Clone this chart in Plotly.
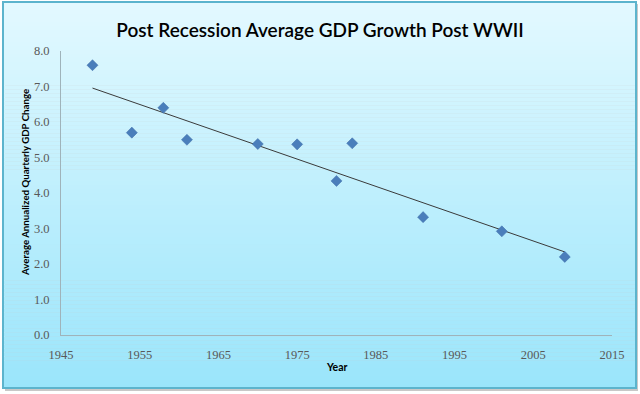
import plotly.graph_objects as go
import numpy as np

# Data
years = [1949, 1954, 1958, 1961, 1970, 1975, 1980, 1982, 1991, 2001, 2009]
gdp_growth = [7.6, 5.7, 6.4, 5.5, 5.38, 5.37, 4.34, 5.4, 3.32, 2.92, 2.2]
x_ticks = [1945, 1955, 1965, 1975, 1985, 1995, 2005, 2015]
y_ticks = [0, 1, 2, 3, 4, 5, 6, 7, 8]

W, H = 640, 394
L, R, T, B = 61, 28, 51, 59
PW, PH = W - L - R, H - T - B

def px(x):
    return (x - L) / PW

def py(y):
    return (H - B - y) / PH

# linear trendline (least squares)
slope, intercept = np.polyfit(years, gdp_growth, 1)
trend_x = [min(years), max(years)]
trend_y = [slope * v + intercept for v in trend_x]

fig = go.Figure()
fig.add_trace(go.Scatter(
    x=trend_x, y=trend_y, mode="lines",
    line=dict(color="#3a3a3a", width=1), hoverinfo="skip", showlegend=False))
fig.add_trace(go.Scatter(
    x=years, y=gdp_growth, mode="markers",
    marker=dict(symbol="diamond", size=8.5, color="#4a7ebb",
                line=dict(color="#3f6fa8", width=0.5)),
    showlegend=False))

shapes = []
# shadow
shapes.append(dict(type="rect", xref="paper", yref="paper", layer="below",
                   x0=px(5), x1=px(638), y0=py(4), y1=py(391),
                   fillcolor="#c8c8c8", line=dict(width=0)))
# gradient background via stripes
x0b, x1b, y0b, y1b = 3, 636, 2, 388
n = 97
top = np.array([0xE3, 0xF9, 0xFF])
bot = np.array([0x9A, 0xE5, 0xFB])
for i in range(n):
    ya = y0b + (y1b - y0b) * i / n
    yb = y0b + (y1b - y0b) * (i + 1) / n
    t = (i + 0.5) / n
    c = (top * (1 - t) + bot * t).round().astype(int)
    shapes.append(dict(type="rect", xref="paper", yref="paper", layer="below",
                       x0=px(x0b), x1=px(x1b), y0=py(yb + 0.3), y1=py(ya),
                       fillcolor="rgb(%d,%d,%d)" % tuple(c), line=dict(width=0)))
# border
shapes.append(dict(type="rect", xref="paper", yref="paper", layer="below",
                   x0=px(x0b), x1=px(x1b), y0=py(y1b), y1=py(y0b),
                   fillcolor="rgba(0,0,0,0)", line=dict(color="#5cb4cd", width=2)))
fig.update_layout(shapes=shapes)

fig.update_layout(
    width=W, height=H,
    margin=dict(l=L, r=R, t=T, b=B, pad=0),
    paper_bgcolor="white", plot_bgcolor="rgba(0,0,0,0)",
    title=dict(text="Post Recession Average GDP Growth Post WWII",
               x=0.5, xanchor="center", xref="container",
               y=1 - 30 / H, yanchor="middle", yref="container",
               font=dict(family="Lato", size=19, color="#000000", weight=600)),
    xaxis=dict(range=[1945, 2015], tickvals=x_ticks,
               ticktext=[str(v) for v in x_ticks],
               showgrid=False, zeroline=False, showline=True,
               linecolor="#9fb3ba", linewidth=1, ticks="",
               ticklabelstandoff=8,
               tickfont=dict(family="Liberation Serif", size=12.5, color="#595959")),
    yaxis=dict(range=[0, 8], tickvals=y_ticks,
               ticktext=["%.1f" % v for v in y_ticks],
               showgrid=False, zeroline=False, showline=True,
               linecolor="#9fb3ba", linewidth=1, ticks="",
               ticklabelstandoff=8,
               tickfont=dict(family="Liberation Serif", size=12.5, color="#595959")),
    annotations=[
        dict(text="<b>Average Annualized Quarterly GDP Change</b>",
             xref="paper", yref="paper", x=px(25), y=py(183),
             textangle=-90, showarrow=False, xanchor="center", yanchor="middle",
             font=dict(family="Lato", size=9.7, color="#000000")),
        dict(text="<b>Year</b>", xref="paper", yref="paper",
             x=px(337), y=py(367), showarrow=False,
             xanchor="center", yanchor="middle",
             font=dict(family="Lato", size=10.5, color="#000000")),
    ],
)

fig.write_html("out.html", config={"displayModeBar": False},
               post_script="document.body.style.margin='0';")
